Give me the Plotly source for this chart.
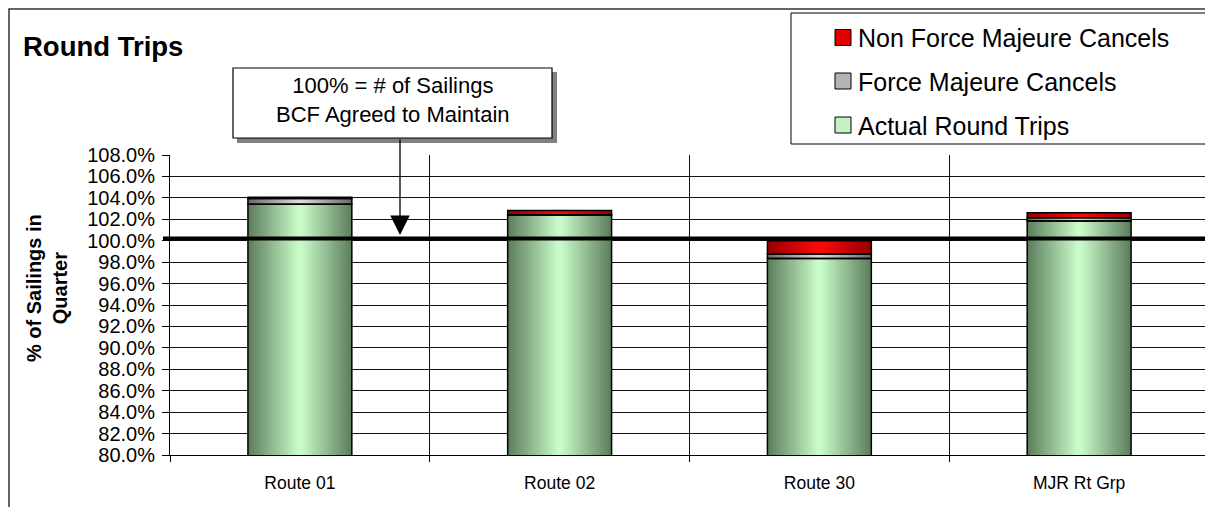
import plotly.graph_objects as go
import numpy as np

# ---------------- data ----------------
categories = ["Route 01", "Route 02", "Route 30", "MJR Rt Grp"]
actual_round_trips = [103.40, 102.40, 98.35, 101.85]
force_majeure_cancels = [0.55, 0.03, 0.40, 0.30]
non_force_majeure_cancels = [0.10, 0.40, 1.25, 0.45]
series_names = ["Actual Round Trips", "Force Majeure Cancels", "Non Force Majeure Cancels"]
y_tick_values = list(range(80, 109, 2))
target_level = 100.2  # the drawn "100%" reference line

# ---------------- styling ----------------
PAGE_OFFSET = 8                         # default body margin of the html page
W, H = 1213 - PAGE_OFFSET, 507 - PAGE_OFFSET
PL, PR, PT, PB = 170, 1209, 155, 455    # plot area in window pixels
FONT = "Liberation Sans, Arial, sans-serif"
BAR_W = 0.40
N_LAYERS = 18
gradients = {
    "Actual Round Trips": ((204, 255, 204), (92, 124, 92)),
    "Force Majeure Cancels": ((222, 222, 222), (104, 104, 104)),
    "Non Force Majeure Cancels": ((255, 10, 10), (150, 0, 0)),
}
legend_fill = {
    "Actual Round Trips": "#c4f0c4",
    "Force Majeure Cancels": "#b4b4b4",
    "Non Force Majeure Cancels": "#e00000",
}


def px_x(px):
    return (px - PL) / (PR - PL)


def px_y(py):
    return (PB - py) / (PB - PT)


def lerp(c1, c2, t):
    return "rgb({},{},{})".format(*[int(round(a + (b - a) * t)) for a, b in zip(c1, c2)])


actual = np.array(actual_round_trips)
fm = np.array(force_majeure_cancels)
nfm = np.array(non_force_majeure_cancels)
series_vals = [actual, fm, nfm]
series_base = [np.zeros_like(actual), actual, actual + fm]

fig = go.Figure()

# gradient layers
for name, vals, base in zip(series_names, series_vals, series_base):
    center, edge = gradients[name]
    for k in range(N_LAYERS):
        w = BAR_W * (1 - k / N_LAYERS)
        w_next = BAR_W * (1 - (k + 1) / N_LAYERS)
        t = ((w + w_next) / 2) / BAR_W
        fig.add_trace(go.Bar(
            x=categories, y=vals, base=base, width=w,
            marker=dict(color=lerp(center, edge, t), line=dict(width=0)),
            showlegend=False, hoverinfo="skip", name=name,
        ))

# outlines
for name, vals, base in zip(series_names, series_vals, series_base):
    fig.add_trace(go.Bar(
        x=categories, y=vals, base=base, width=BAR_W,
        marker=dict(color="rgba(0,0,0,0)", line=dict(color="black", width=1.5)),
        showlegend=False, name=name,
        hovertemplate="%{x}<br>" + name + ": %{y:.2f}%<extra></extra>",
    ))

shapes = []
annotations = []

# outer chart border
shapes.append(dict(type="rect", xref="paper", yref="paper",
                   x0=px_x(9), x1=px_x(1230), y0=px_y(530), y1=px_y(9),
                   line=dict(color="#333333", width=1.5), fillcolor="rgba(0,0,0,0)", layer="below"))

# thick 100% line
shapes.append(dict(type="line", xref="paper", yref="y",
                   x0=px_x(163), x1=px_x(1225), y0=target_level, y1=target_level,
                   line=dict(color="black", width=4)))

# legend box
shapes.append(dict(type="rect", xref="paper", yref="paper",
                   x0=px_x(791), x1=px_x(1207), y0=px_y(144), y1=px_y(13),
                   line=dict(color="black", width=1), fillcolor="white"))
legend_rows = [("Non Force Majeure Cancels", 37.5), ("Force Majeure Cancels", 81), ("Actual Round Trips", 125)]
for name, cy in legend_rows:
    shapes.append(dict(type="rect", xref="paper", yref="paper",
                       x0=px_x(835), x1=px_x(851), y0=px_y(cy + 8), y1=px_y(cy - 8),
                       line=dict(color="black", width=1), fillcolor=legend_fill[name]))
    annotations.append(dict(xref="paper", yref="paper", x=px_x(856), y=px_y(cy + 1),
                            xanchor="left", yanchor="middle", showarrow=False, text=name,
                            font=dict(family=FONT, size=25, color="black")))

# note box with shadow
shapes.append(dict(type="rect", xref="paper", yref="paper",
                   x0=px_x(237), x1=px_x(557), y0=px_y(143), y1=px_y(72),
                   line=dict(width=0), fillcolor="#808080"))
shapes.append(dict(type="rect", xref="paper", yref="paper",
                   x0=px_x(233), x1=px_x(552), y0=px_y(138), y1=px_y(68),
                   line=dict(color="black", width=1.2), fillcolor="white"))
annotations.append(dict(xref="paper", yref="paper", x=px_x(393), y=px_y(100),
                        xanchor="center", yanchor="middle", showarrow=False,
                        text="100% = # of Sailings<br>BCF Agreed to Maintain",
                        font=dict(family=FONT, size=22, color="black")))
# arrow from note to line
annotations.append(dict(xref="paper", yref="paper", x=px_x(400), y=px_y(235),
                        ax=0, ay=-(235 - 138), axref="pixel", ayref="pixel",
                        text="", showarrow=True, arrowhead=2, arrowsize=3,
                        arrowwidth=1.3, arrowcolor="black"))

# title
annotations.append(dict(xref="paper", yref="paper", x=px_x(21), y=px_y(46),
                        xanchor="left", yanchor="middle", showarrow=False,
                        text="<b>Round Trips</b>",
                        font=dict(family=FONT, size=27.5, color="black")))

# y-axis title
annotations.append(dict(xref="paper", yref="paper", x=px_x(47), y=px_y(288),
                        xanchor="center", yanchor="middle", showarrow=False, textangle=-90,
                        text="<b>% of Sailings in<br>Quarter</b>",
                        font=dict(family=FONT, size=20, color="black")))

fig.update_layout(
    width=W, height=H, autosize=False,
    margin=dict(l=PL - PAGE_OFFSET, r=W - (PR - PAGE_OFFSET),
                t=PT - PAGE_OFFSET, b=H - (PB - PAGE_OFFSET), pad=0),
    barmode="overlay",
    paper_bgcolor="white", plot_bgcolor="white",
    showlegend=False,
    font=dict(family=FONT, color="black"),
    shapes=shapes, annotations=annotations,
    xaxis=dict(type="category", range=[-0.5, 3.5], tickson="boundaries",
               showgrid=True, gridcolor="#111111", gridwidth=1,
               ticks="outside", ticklen=6, tickcolor="black", tickwidth=1,
               showline=True, linecolor="black", linewidth=1,
               tickfont=dict(family=FONT, size=17.5, color="black"),
               ticklabelstandoff=12),
    yaxis=dict(range=[80, 108], tickvals=y_tick_values,
               ticktext=[f"{v:.1f}%" for v in y_tick_values],
               showgrid=True, gridcolor="#111111", gridwidth=1, zeroline=False,
               ticks="outside", ticklen=7, tickcolor="black", tickwidth=1,
               showline=True, linecolor="black", linewidth=1,
               tickfont=dict(family=FONT, size=20, color="black"),
               ticklabelstandoff=3),
)

fig.write_html("out.html")
